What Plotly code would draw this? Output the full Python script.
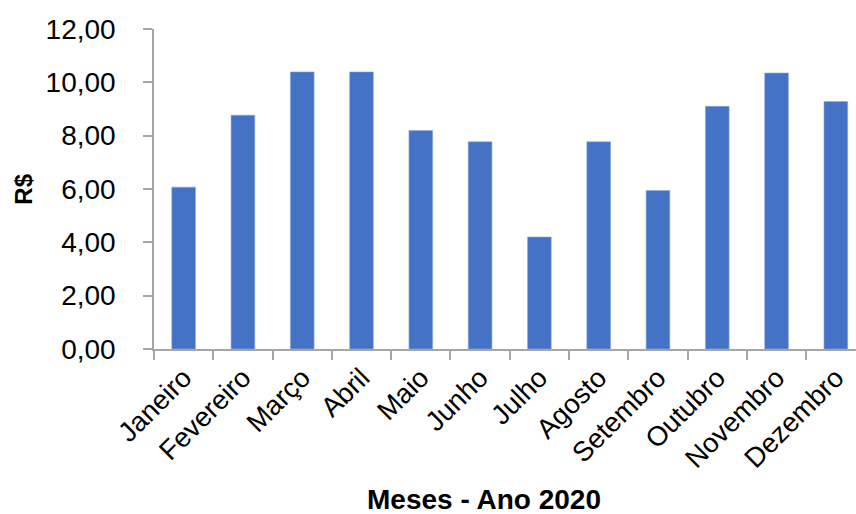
import plotly.graph_objects as go

# Monthly values (R$) for 2020
meses = ["Janeiro", "Fevereiro", "Março", "Abril", "Maio", "Junho",
         "Julho", "Agosto", "Setembro", "Outubro", "Novembro", "Dezembro"]
valores = [6.07, 8.77, 10.39, 10.39, 8.19, 7.77,
           4.20, 7.77, 5.94, 9.10, 10.35, 9.28]
y_ticks = [0, 2, 4, 6, 8, 10, 12]

font_family = "Liberation Sans, Arial, sans-serif"
axis_color = "#a6a6a6"

fig = go.Figure(
    go.Bar(
        x=meses,
        y=valores,
        marker=dict(color="#4472C4", line=dict(color="#8eaadb", width=0.6)),
    )
)

fig.update_layout(
    width=856,
    height=514,
    margin=dict(l=154, r=0, t=29, b=165),
    paper_bgcolor="white",
    plot_bgcolor="white",
    separators=",.",
    bargap=0.6,
    showlegend=False,
    font=dict(family=font_family, color="#000000"),
)

fig.update_xaxes(
    range=[-0.5, 11.34],
    showline=True,
    linecolor=axis_color,
    linewidth=1.5,
    ticks="outside",
    tickson="boundaries",
    ticklen=9,
    tickcolor=axis_color,
    tickwidth=1.5,
    tickangle=-45,
    tickfont=dict(size=27.5, family=font_family),
    showgrid=False,
)

fig.update_yaxes(
    range=[0, 12],
    tickvals=y_ticks,
    tickformat=".2f",
    showline=True,
    linecolor=axis_color,
    linewidth=1.5,
    ticks="outside",
    ticklen=9,
    tickcolor=axis_color,
    tickwidth=1.5,
    ticklabelstandoff=22,
    tickfont=dict(size=28, family=font_family),
    showgrid=False,
    zeroline=False,
)

fig.add_annotation(
    text="<b>R$</b>", textangle=-90,
    xref="paper", yref="paper", x=(24 - 154) / 702, y=(349.3 - 190) / 320,
    xanchor="center", yanchor="middle",
    showarrow=False, font=dict(size=24, family=font_family),
)
fig.add_annotation(
    text="<b>Meses - Ano 2020</b>",
    xref="paper", yref="paper", x=(484 - 154) / 702, y=-(500 - 349.3) / 320,
    xanchor="center", yanchor="middle",
    showarrow=False, font=dict(size=28, family=font_family),
)

fig.write_html("out.html")
